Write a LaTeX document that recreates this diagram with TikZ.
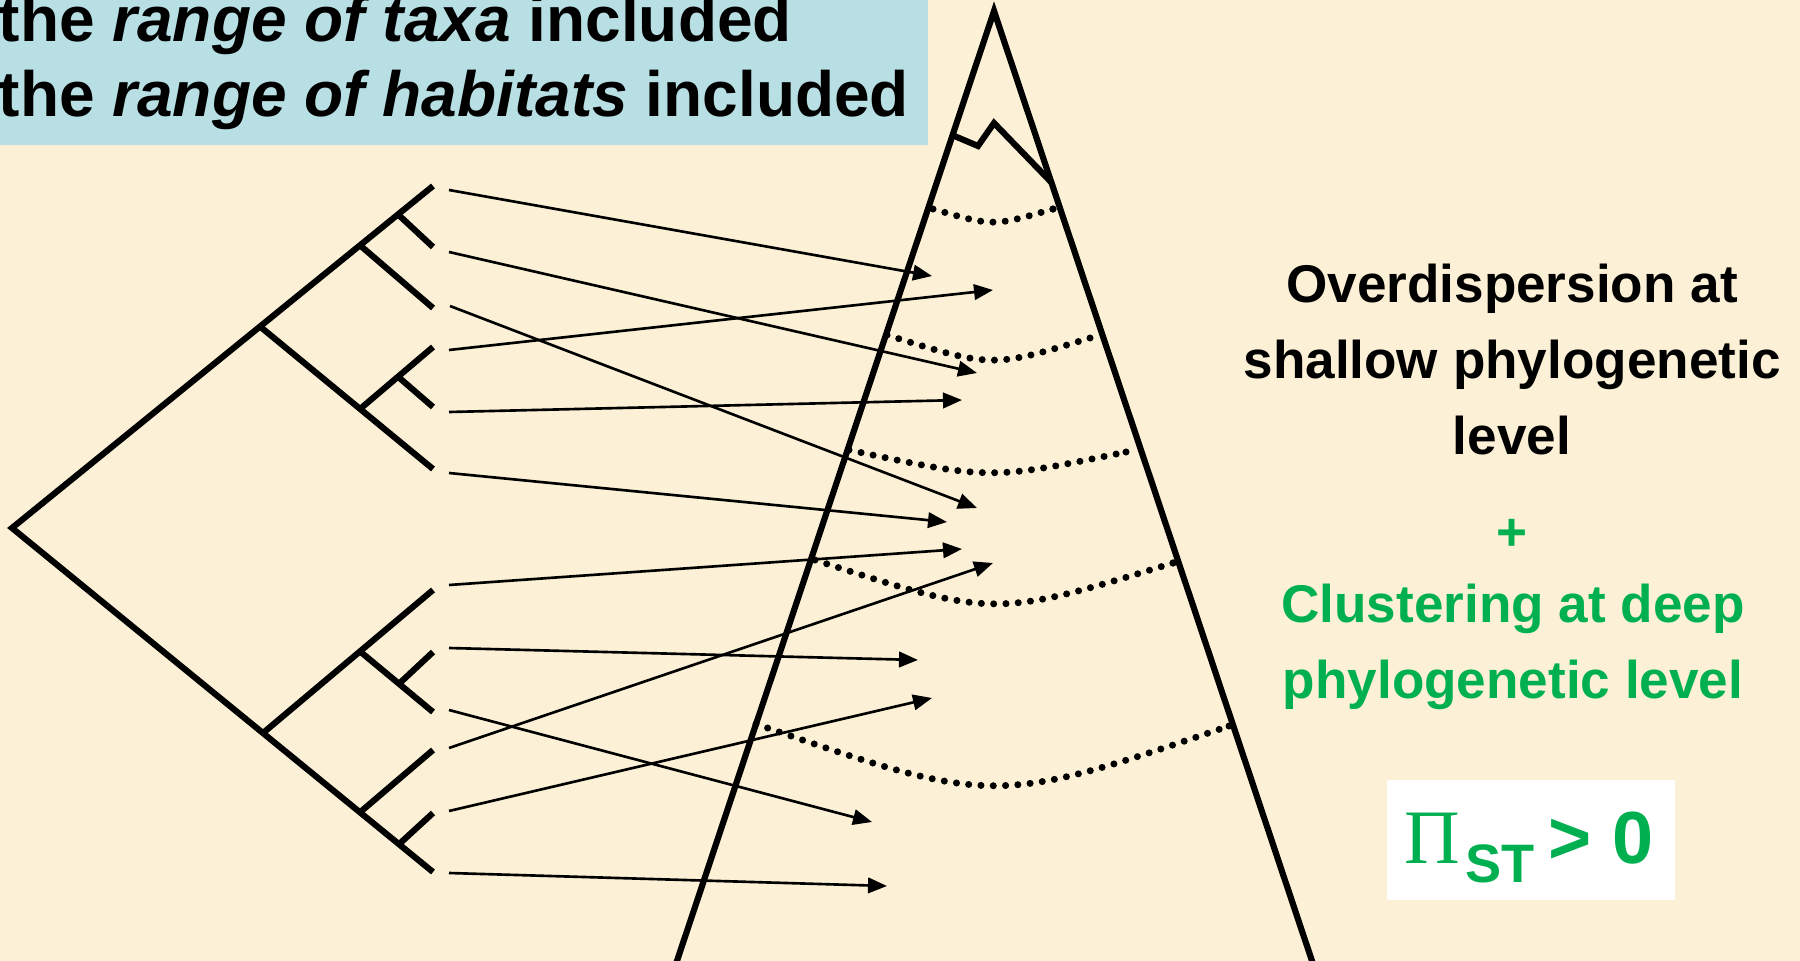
\documentclass[tikz,border=0pt]{standalone}
\usepackage{fontspec}
\setmainfont{Liberation Sans}
\newfontfamily\greekserif{Liberation Serif}
\usetikzlibrary{arrows.meta}
\definecolor{bgcream}{RGB}{252,241,214}
\definecolor{boxblue}{RGB}{184,224,228}
\definecolor{grn}{RGB}{0,176,80}
\begin{document}
\begin{tikzpicture}[x=0.01cm, y=-0.01cm,
  branch/.style={line width=1.75pt, line cap=butt, line join=miter},
  conestyle/.style={line width=1.75pt, line join=miter},
  link/.style={line width=0.75pt, -{Triangle[length=5.4pt,width=4.4pt]}},
  dotarc/.style={line width=2pt, line cap=round, dash pattern=on 0pt off 3.5pt},
  toptext/.style={anchor=base west, inner sep=0pt, font=\fontsize{18.2pt}{22pt}\selectfont\bfseries},
  sidetext/.style={anchor=base, inner sep=0pt, font=\fontsize{15.1pt}{18pt}\selectfont\bfseries},
]
% background and bounding box
\fill[bgcream] (0,0) rectangle (1800,961);
\useasboundingbox (0,0) rectangle (1800,961);

% top-left label box
\fill[boxblue] (0,0) rectangle (928,145);
\node[toptext] (taxa) at (-2,42) {the \textit{range of taxa} included};
\node[toptext] (habitats) at (-2,117) {the \textit{range of habitats} included};

% cone
\coordinate (P) at (994,11);
\coordinate (BL) at (672.3,975);
\coordinate (BR) at (1316.7,975);
\draw[conestyle] (BL) -- (P) -- (BR);
\coordinate (z1) at (952,135);
\coordinate (z2) at (978,146);
\coordinate (z3) at (994,123);
\coordinate (z4) at (1051,182);
\draw[conestyle] (z1) -- (z2) -- (z3) -- (z4);

% dotted levels
\coordinate (a1l) at (933,209);  \coordinate (a1m) at (993,226.5); \coordinate (a1r) at (1053,209);
\coordinate (a2l) at (887,335);  \coordinate (a2m) at (992,368);   \coordinate (a2r) at (1090,338);
\coordinate (a3l) at (849,450);  \coordinate (a3m) at (990,480);   \coordinate (a3r) at (1126,452);
\coordinate (a4l) at (815,560);  \coordinate (a4m) at (994,618);   \coordinate (a4r) at (1173,563);
\coordinate (a5l) at (756,724);  \coordinate (a5m) at (994,806);   \coordinate (a5r) at (1229,726);
\foreach \k in {1,...,5} {
  \draw[dotarc] (a\k l) .. controls (a\k m) and (a\k m) .. (a\k r);
  \fill (a\k r) circle (1pt);
}

% tree
\coordinate (root) at (12,528);
\coordinate (t1) at (433,186);
\coordinate (nA) at (260,326.5);
\coordinate (nB) at (360,245.3);
\coordinate (nC) at (398,214.4);
\coordinate (t2) at (433,247);
\coordinate (t3) at (433,308);
\coordinate (nD) at (360,409);
\coordinate (t6) at (433,469);
\coordinate (t4) at (433,347);
\coordinate (nE) at (398,376.7);
\coordinate (t5) at (433,407);
\coordinate (t12) at (433,872);
\coordinate (nF) at (263,733);
\coordinate (t7) at (433,590);
\coordinate (nG) at (360,651.4);
\coordinate (t9) at (433,712);
\coordinate (nH) at (399,683.8);
\coordinate (t8) at (433,652);
\coordinate (nI) at (360,812.3);
\coordinate (t10) at (433,750);
\coordinate (nJ) at (399,844.2);
\coordinate (t11) at (433,813);
\draw[branch] (t1) -- (root) -- (t12);
\draw[branch] (nC) -- (t2);
\draw[branch] (nB) -- (t3);
\draw[branch] (nA) -- (t6);
\draw[branch] (nD) -- (t4);
\draw[branch] (nE) -- (t5);
\draw[branch] (nF) -- (t7);
\draw[branch] (nG) -- (t9);
\draw[branch] (nH) -- (t8);
\draw[branch] (nI) -- (t10);
\draw[branch] (nJ) -- (t11);

% arrows
\coordinate (s1) at (449,190);  \coordinate (e1) at (932,276);
\coordinate (s2) at (449,252);  \coordinate (e2) at (977,373);
\coordinate (s3) at (450,306);  \coordinate (e3) at (977,508);
\coordinate (s4) at (449,350);  \coordinate (e4) at (993,290);
\coordinate (s5) at (449,412);  \coordinate (e5) at (962,400);
\coordinate (s6) at (449,473);  \coordinate (e6) at (947,522);
\coordinate (s7) at (449,585);  \coordinate (e7) at (962,549);
\coordinate (s8) at (449,648);  \coordinate (e8) at (918,660);
\coordinate (s9) at (449,710);  \coordinate (e9) at (872,822);
\coordinate (s10) at (449,748); \coordinate (e10) at (993,563);
\coordinate (s11) at (449,811); \coordinate (e11) at (932,698);
\coordinate (s12) at (449,873); \coordinate (e12) at (887,886);
\foreach \i in {1,...,12} {\draw[link] (s\i) -- (e\i);}

% right-hand text
\node[sidetext] (ov1) at (1512,303) {Overdispersion at};
\node[sidetext] (ov2) at (1512,379) {shallow phylogenetic};
\node[sidetext] (ov3) at (1512,455) {level};
\node[sidetext, text=grn] (plus) at (1512,550) {+};
\node[sidetext, text=grn] (cl1) at (1513,622) {Clustering at deep};
\node[sidetext, text=grn] (cl2) at (1513,698) {phylogenetic level};

% Pi_ST > 0 box
\fill[white] (1387,780) rectangle (1675,900);
\node[anchor=base west, inner sep=0pt, text=grn, font=\fontsize{21.9pt}{24pt}\selectfont\greekserif] (pisym) at (1404,863) {Π};
\node[anchor=base west, inner sep=0pt, text=grn, font=\fontsize{15.4pt}{18pt}\selectfont\bfseries] (pisub) at (1465,882) {ST};
\node[anchor=base west, inner sep=0pt, text=grn, font=\fontsize{21pt}{24pt}\selectfont\bfseries] (pigt) at (1548,863) {> 0};
\end{tikzpicture}
\end{document}
